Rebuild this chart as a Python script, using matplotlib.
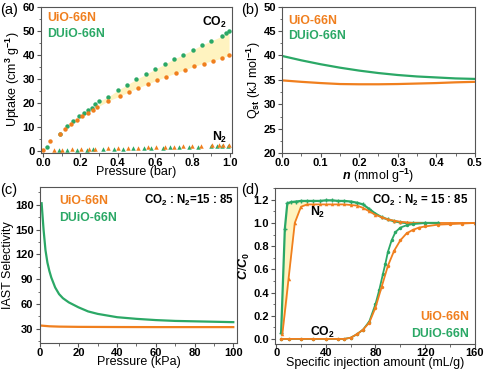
import matplotlib
matplotlib.use("Agg")
import matplotlib.pyplot as plt
from matplotlib.ticker import MultipleLocator

plt.rcParams['font.family'] = ['Liberation Sans', 'DejaVu Sans']
plt.rcParams['font.weight'] = 'bold'
plt.rcParams['mathtext.fontset'] = 'custom'
plt.rcParams['mathtext.rm'] = 'Liberation Sans:bold'
plt.rcParams['mathtext.it'] = 'Liberation Sans:italic:bold'
plt.rcParams['font.size'] = 9

ORANGE = '#F07F1E'
GREEN = '#2BA866'
FILL = '#FFF3C0'
FRAME = '#555555'

# (a) CO2 / N2 isotherms
a_co2_u_x = [0.0, 0.04, 0.09, 0.12, 0.15, 0.18, 0.21, 0.24, 0.27, 0.29, 0.35, 0.41, 0.46, 0.51,
             0.56, 0.61, 0.66, 0.71, 0.76, 0.81, 0.86, 0.91, 0.96, 0.995]
a_co2_u_y = [0.3, 4.0, 7.2, 9.2, 11.0, 12.8, 14.3, 15.8, 17.0, 18.3, 20.8, 22.7, 24.4, 26.1,
             27.7, 29.3, 30.8, 32.3, 33.7, 35.1, 36.3, 37.5, 38.6, 39.8]
a_co2_d_x = [0.02, 0.09, 0.13, 0.16, 0.19, 0.22, 0.24, 0.26, 0.28, 0.30, 0.35, 0.40, 0.45, 0.50,
             0.55, 0.60, 0.65, 0.70, 0.75, 0.80, 0.85, 0.90, 0.955, 0.98, 0.995]
a_co2_d_y = [1.4, 7.1, 10.5, 12.5, 14.3, 15.8, 17.0, 18.0, 19.5, 20.6, 22.5, 25.2, 27.5, 29.8,
             31.8, 34.0, 36.0, 38.2, 40.0, 42.0, 44.0, 45.8, 47.6, 49.0, 49.7]
a_n2_u_x = [0.06, 0.10, 0.155, 0.205, 0.245, 0.28, 0.345, 0.40, 0.455, 0.51, 0.56, 0.605, 0.655,
            0.70, 0.75, 0.795, 0.845, 0.905, 0.94, 0.965, 0.995]
a_n2_u_y = [0.4, 0.5, 0.6, 0.7, 0.8, 0.9, 1.0, 1.1, 1.2, 1.3, 1.4, 1.5, 1.6, 1.8, 1.9, 2.0,
            2.1, 2.3, 2.4, 2.5, 2.6]
a_n2_d_x = [0.085, 0.13, 0.18, 0.235, 0.27, 0.32, 0.38, 0.43, 0.48, 0.54, 0.58, 0.64, 0.68,
            0.73, 0.78, 0.83, 0.90, 0.93, 0.96, 0.99]
a_n2_d_y = [0.2, 0.3, 0.4, 0.5, 0.6, 0.7, 0.8, 0.9, 1.0, 1.1, 1.2, 1.3, 1.4, 1.5, 1.6, 1.7,
            1.9, 2.0, 2.1, 2.2]
# shaded gap between the two CO2 isotherms
a_fill_x = [0.30, 0.35, 0.40, 0.45, 0.50, 0.55, 0.60, 0.65, 0.70, 0.75, 0.80, 0.85, 0.90, 0.955, 0.995]
a_fill_lo = [18.6, 20.8, 22.4, 24.2, 25.9, 27.5, 29.1, 30.6, 32.1, 33.5, 34.9, 36.2, 37.4, 38.5, 39.8]
a_fill_hi = [20.6, 22.5, 25.2, 27.5, 29.8, 31.8, 34.0, 36.0, 38.2, 40.0, 42.0, 44.0, 45.8, 47.6, 49.7]

# (b) isosteric heat
b_n = [0.0, 0.05, 0.1, 0.15, 0.2, 0.25, 0.3, 0.35, 0.4, 0.45, 0.5]
b_u = [34.9, 34.6, 34.35, 34.15, 34.1, 34.1, 34.15, 34.25, 34.35, 34.5, 34.6]
b_d = [39.9, 39.0, 38.2, 37.5, 36.9, 36.4, 36.0, 35.7, 35.5, 35.3, 35.2]

# (c) IAST selectivity
c_p_d = [1, 2, 3, 4, 5, 6, 8, 10, 12, 15, 20, 25, 30, 40, 50, 60, 70, 80, 90, 100]
c_s_d = [182, 150, 125, 110, 100, 92, 80, 72, 67, 62, 56, 51, 48, 44, 42, 40.5, 39.5, 39, 38.5, 38]
c_p_u = [0, 5, 10, 20, 40, 60, 80, 100]
c_s_u = [34, 33, 32.6, 32.3, 32.1, 32.0, 32.0, 32.0]

# (d) breakthrough curves
d_n2_d_x = [4, 7, 9, 12, 16, 20, 25, 30, 35, 40, 45, 50, 55, 60, 65, 70, 75, 80, 85, 90, 95,
            100, 105, 110, 120, 130]
d_n2_d_y = [0.05, 0.95, 1.17, 1.18, 1.185, 1.19, 1.19, 1.19, 1.19, 1.195, 1.195, 1.19, 1.19,
            1.185, 1.175, 1.16, 1.12, 1.08, 1.05, 1.03, 1.015, 1.005, 1.0, 1.0, 1.0, 1.0]
d_n2_u_x = [5, 10, 15, 20, 25, 30, 35, 40, 45, 50, 55, 60, 65, 70, 75, 80, 85, 90, 95, 100,
            105, 110, 120, 130, 140, 150, 160]
d_n2_u_y = [0.04, 0.52, 1.0, 1.14, 1.16, 1.16, 1.16, 1.16, 1.16, 1.16, 1.16, 1.155, 1.15, 1.13,
            1.1, 1.07, 1.05, 1.03, 1.02, 1.01, 1.005, 1.0, 1.0, 1.0, 1.0, 1.0, 1.0]
d_co2_d_x = [4, 10, 20, 30, 40, 50, 55, 60, 65, 70, 75, 80, 83, 86, 88, 90, 93, 96, 100, 105,
             110, 120, 130]
d_co2_d_y = [0, 0, 0, 0, 0, 0, 0, 0.01, 0.04, 0.08, 0.15, 0.3, 0.42, 0.56, 0.65, 0.75, 0.85,
             0.92, 0.96, 0.98, 0.99, 1.0, 1.0]
d_co2_u_x = [4, 10, 20, 30, 40, 50, 55, 60, 65, 70, 75, 80, 85, 90, 95, 100, 105, 110, 115,
             120, 130, 140, 150, 160]
d_co2_u_y = [0, 0, 0, 0, 0, 0, 0, 0.01, 0.04, 0.08, 0.14, 0.27, 0.45, 0.63, 0.76, 0.85, 0.91,
             0.94, 0.96, 0.97, 0.985, 0.99, 0.995, 1.0]
# shaded gap between the two N2 fronts
d_fill_x = [4, 5, 7, 9, 10, 12, 15, 20, 25]
d_fill_lo = [0.05, 0.05, 0.2, 0.35, 0.52, 0.7, 1.0, 1.14, 1.16]
d_fill_hi = [0.05, 0.35, 0.95, 1.17, 1.175, 1.18, 1.183, 1.19, 1.19]

fig = plt.figure(figsize=(4.84, 3.69), dpi=100)
ax_a = fig.add_axes([0.085, 0.586, 0.394, 0.396])
ax_b = fig.add_axes([0.583, 0.585, 0.398, 0.397])
ax_c = fig.add_axes([0.082, 0.071, 0.408, 0.423])
ax_d = fig.add_axes([0.568, 0.069, 0.413, 0.421])

LAB = 9
LEG = 8.8


def style(ax):
    ax.tick_params(which='both', direction='out', top=False, right=False,
                   labelsize=8, color=FRAME)
    ax.tick_params(axis='x', pad=0.5)
    ax.tick_params(axis='y', pad=1.5)
    ax.tick_params(which='major', length=3)
    ax.tick_params(which='minor', length=1.8)
    for lab in ax.get_xticklabels() + ax.get_yticklabels():
        lab.set_fontweight('bold')
    for s in ax.spines.values():
        s.set_color(FRAME)
        s.set_linewidth(0.8)
    ax.xaxis.labelpad = -1
    ax.yaxis.labelpad = 0.5


# (a)
ax = ax_a
ax.fill_between(a_fill_x, a_fill_lo, a_fill_hi, color=FILL, lw=0, zorder=0)
ax.plot(a_co2_d_x, a_co2_d_y, 'o', color=GREEN, ms=3.2, mew=0)
ax.plot(a_co2_u_x, a_co2_u_y, 'o', color=ORANGE, ms=3.2, mew=0)
ax.plot(a_n2_d_x, a_n2_d_y, '^', color=GREEN, ms=3.2, mew=0)
ax.plot(a_n2_u_x, a_n2_u_y, '^', color=ORANGE, ms=3.2, mew=0)
ax.set_xlim(-0.01, 1.01)
ax.set_ylim(-0.8, 60)
ax.xaxis.set_major_locator(MultipleLocator(0.2))
ax.xaxis.set_minor_locator(MultipleLocator(0.1))
ax.yaxis.set_major_locator(MultipleLocator(10))
ax.yaxis.set_minor_locator(MultipleLocator(5))
ax.set_xlabel('Pressure (bar)', fontsize=LAB)
ax.set_ylabel('Uptake (cm$^3$ g$^{-1}$)', fontsize=LAB)
ax.text(0.03, 0.90, 'UiO-66N', color=ORANGE, transform=ax.transAxes, fontsize=LEG)
ax.text(0.03, 0.79, 'DUiO-66N', color=GREEN, transform=ax.transAxes, fontsize=LEG)
ax.text(0.985, 52, 'CO$_2$', ha='right', fontsize=LEG)
ax.text(0.985, 4.2, 'N$_2$', ha='right', fontsize=LEG)
style(ax)

# (b)
ax = ax_b
ax.plot(b_n, b_d, color=GREEN, lw=1.6)
ax.plot(b_n, b_u, color=ORANGE, lw=1.6)
ax.set_xlim(0, 0.5)
ax.set_ylim(20, 50)
ax.xaxis.set_major_locator(MultipleLocator(0.1))
ax.xaxis.set_minor_locator(MultipleLocator(0.05))
ax.yaxis.set_major_locator(MultipleLocator(5))
ax.yaxis.set_minor_locator(MultipleLocator(2.5))
ax.set_xlabel('$n$ (mmol g$^{-1}$)', fontsize=LAB)
ax.set_ylabel('Q$_{\\mathrm{st}}$ (kJ mol$^{-1}$)', fontsize=LAB)
ax.text(0.03, 0.88, 'UiO-66N', color=ORANGE, transform=ax.transAxes, fontsize=LEG)
ax.text(0.03, 0.78, 'DUiO-66N', color=GREEN, transform=ax.transAxes, fontsize=LEG)
style(ax)

# (c)
ax = ax_c
ax.plot(c_p_d, c_s_d, color=GREEN, lw=1.6)
ax.plot(c_p_u, c_s_u, color=ORANGE, lw=1.6)
ax.set_xlim(0, 102)
ax.set_ylim(13, 202)
ax.xaxis.set_major_locator(MultipleLocator(20))
ax.xaxis.set_minor_locator(MultipleLocator(10))
ax.yaxis.set_major_locator(MultipleLocator(30))
ax.yaxis.set_minor_locator(MultipleLocator(15))
ax.set_xlabel('Pressure (kPa)', fontsize=LAB)
ax.set_ylabel('IAST Selectivity', fontsize=LAB)
ax.text(0.1, 0.89, 'UiO-66N', color=ORANGE, transform=ax.transAxes, fontsize=LEG)
ax.text(0.1, 0.78, 'DUiO-66N', color=GREEN, transform=ax.transAxes, fontsize=LEG)
ax.text(0.985, 0.89, 'CO$_2$ : N$_2$=15 : 85', ha='right', transform=ax.transAxes, fontsize=8.3)
style(ax)

# (d)
ax = ax_d
ax.fill_between(d_fill_x, d_fill_lo, d_fill_hi, color=FILL, lw=0, zorder=0)
ax.plot(d_n2_d_x, d_n2_d_y, '-', marker='+', color=GREEN, lw=1.6, ms=3.5, mew=1)
ax.plot(d_n2_u_x, d_n2_u_y, '-', marker='^', color=ORANGE, lw=1.3, ms=2.5, mew=0)
ax.plot(d_co2_d_x, d_co2_d_y, '-', marker='o', color=GREEN, lw=1.3, ms=2.5, mew=0)
ax.plot(d_co2_u_x, d_co2_u_y, '-', marker='o', color=ORANGE, lw=1.3, ms=2.5, mew=0)
ax.set_xlim(-1, 160)
ax.set_ylim(-0.04, 1.3)
ax.xaxis.set_major_locator(MultipleLocator(40))
ax.xaxis.set_minor_locator(MultipleLocator(20))
ax.yaxis.set_major_locator(MultipleLocator(0.2))
ax.yaxis.set_minor_locator(MultipleLocator(0.1))
ax.set_xlabel('Specific injection amount (mL/g)', fontsize=LAB)
ax.set_ylabel('$C$/$C_0$', fontsize=LAB)
ax.text(0.97, 0.90, 'CO$_2$ : N$_2$ = 15 : 85', ha='right', transform=ax.transAxes, fontsize=8.3)
ax.text(27, 1.06, 'N$_2$', fontsize=LEG)
ax.text(27, 0.03, 'CO$_2$', fontsize=LEG)
ax.text(0.97, 0.15, 'UiO-66N', color=ORANGE, ha='right', transform=ax.transAxes, fontsize=LEG)
ax.text(0.97, 0.04, 'DUiO-66N', color=GREEN, ha='right', transform=ax.transAxes, fontsize=LEG)
style(ax)

fig.text(0.0, 0.962, '(a)', fontsize=10.5, fontweight='normal')
fig.text(0.498, 0.962, '(b)', fontsize=10.5, fontweight='normal')
fig.text(0.0, 0.475, '(c)', fontsize=10.5, fontweight='normal')
fig.text(0.498, 0.475, '(d)', fontsize=10.5, fontweight='normal')

fig.savefig('out.png', dpi=100)
